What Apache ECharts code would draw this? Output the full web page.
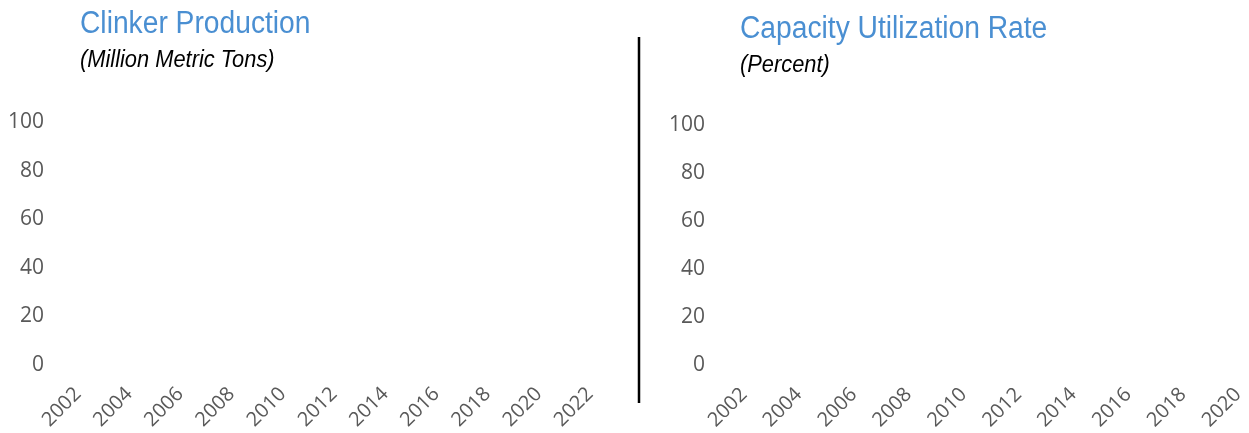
<!DOCTYPE html>
<html>
<head>
<meta charset="utf-8">
<title>Clinker Production and Capacity Utilization</title>
<script src="https://cdn.jsdelivr.net/npm/echarts@6/dist/echarts.min.js"></script>
<style>
  html, body { margin: 0; padding: 0; background: #fff; }
  #chart { width: 1249px; height: 433px; }
</style>
</head>
<body>
<div id="chart"></div>
<script>
// categories: left panel runs to 2022, right panel is cut at 2020
const yearsClinker = ['2002','2003','2004','2005','2006','2007','2008','2009','2010','2011','2012',
  '2013','2014','2015','2016','2017','2018','2019','2020','2021','2022']
const yearsCapacity = ['2002','2003','2004','2005','2006','2007','2008','2009','2010','2011','2012',
  '2013','2014','2015','2016','2017','2018','2019','2020']
const yTicks = [0, 20, 40, 60, 80, 100]

// the reference shows both panels with no plotted values
const clinkerProduction = []
const capacityUtilization = []

const labelColor = '#595959'
const titleBlue = '#4A8FD2'
const sans = '"Liberation Sans", Arial, sans-serif'

const yAxisBase = (grid, margin) => ({
  type: 'value', gridIndex: grid,
  min: yTicks[0], max: yTicks[yTicks.length - 1], interval: yTicks[1] - yTicks[0],
  axisLine: { show: false }, axisTick: { show: false }, splitLine: { show: false },
  axisLabel: { color: labelColor, fontSize: 21, fontFamily: '"Open Sans", sans-serif', margin: margin }
})

const xAxisBase = (grid, data) => ({
  type: 'category', gridIndex: grid, data: data, boundaryGap: false,
  axisLine: { show: false }, axisTick: { show: false }, splitLine: { show: false },
  axisLabel: { color: labelColor, fontSize: 20, fontFamily: '"Open Sans", sans-serif', rotate: 45, interval: 1, margin: 26 }
})

// narrow title lettering: regular sans squeezed horizontally
const titleText = (text, x, y, size, color, italic) => ({
  type: 'text', x: x, y: y, scaleX: 0.91, silent: true,
  style: { text: text, fontSize: size, fontFamily: sans, fontStyle: italic ? 'italic' : 'normal',
    fill: color, align: 'left', verticalAlign: 'middle' }
})

const chart = echarts.init(document.getElementById('chart'))
chart.setOption({
  animation: false,
  grid: [
    { left: 78, top: 122, width: 512, height: 243 },
    { left: 744, top: 125, width: 494, height: 242 }
  ],
  xAxis: [xAxisBase(0, yearsClinker), xAxisBase(1, yearsCapacity)],
  yAxis: [yAxisBase(0, 34), yAxisBase(1, 39)],
  series: [
    { name: 'Clinker Production', type: 'line', xAxisIndex: 0, yAxisIndex: 0, data: clinkerProduction },
    { name: 'Capacity Utilization Rate', type: 'line', xAxisIndex: 1, yAxisIndex: 1, data: capacityUtilization }
  ],
  graphic: [
    titleText('Clinker Production', 80, 24, 31, titleBlue, false),
    titleText('(Million Metric Tons)', 80, 60, 24, '#000', true),
    titleText('Capacity Utilization Rate', 740, 29, 31, titleBlue, false),
    titleText('(Percent)', 740, 65, 24, '#000', true),
    { type: 'line', shape: { x1: 639, y1: 37, x2: 639, y2: 403 }, style: { stroke: '#000', lineWidth: 2.5 } }
  ]
})
</script>
</body>
</html>
